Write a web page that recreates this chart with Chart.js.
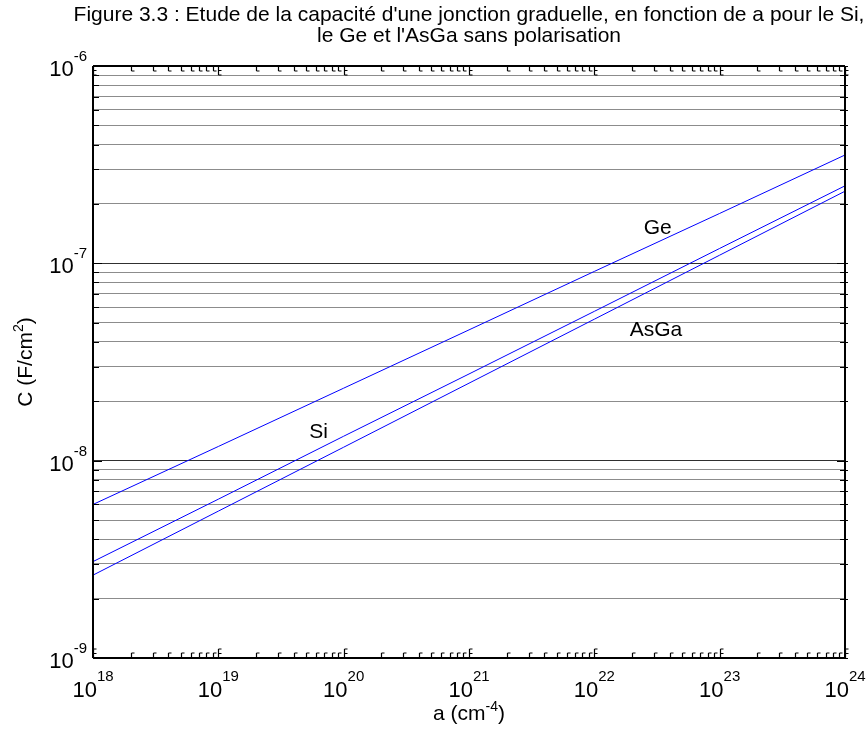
<!DOCTYPE html>
<html><head><meta charset="utf-8">
<script src="https://cdn.jsdelivr.net/npm/chart.js@4.4.1/dist/chart.umd.min.js"></script>
<style>html,body{margin:0;padding:0;background:#fff;overflow:hidden}#wrap{width:866px;height:735px}</style>
</head><body><div id="wrap"><canvas id="c" width="866" height="735"></canvas></div>
<script>
// ---- data ----
const titleLines = ["Figure 3.3 : Etude de la capacité d'une jonction graduelle, en fonction de a pour le Si,", "le Ge et l'AsGa sans polarisation"];
const xValues = [1e18, 1e19, 1e20, 1e21, 1e22, 1e23, 1e24];
const siValues = [3.08e-9, 6.38e-9, 1.33e-8, 2.75e-8, 5.71e-8, 1.19e-7, 2.47e-7];
const geValues = [6.0e-9, 1.18e-8, 2.33e-8, 4.6e-8, 9.1e-8, 1.79e-7, 3.54e-7];
const asgaValues = [2.63e-9, 5.55e-9, 1.17e-8, 2.47e-8, 5.21e-8, 1.10e-7, 2.32e-7];
const seriesNames = ['Si', 'Ge', 'AsGa'];
const labelA = [6.3e19, 3.2e22, 3.1e22];
const labelC = [1.40e-8, 1.51e-7, 4.59e-8];
const xTickExponents = [18, 19, 20, 21, 22, 23, 24];
const yTickExponents = [-9, -8, -7, -6];
const minorMultipliers = [2, 3, 4, 5, 6, 7, 8, 9];
const xTitle = ['a (cm', '-4', ')'];
const yTitle = ['C (F/cm', '2', ')'];

function makeTicks(exps) {
  const t = [];
  exps.forEach((e, i) => {
    t.push({ value: Math.pow(10, e), major: true });
    if (i < exps.length - 1) minorMultipliers.forEach(m => t.push({ value: m * Math.pow(10, e), major: false }));
  });
  return t;
}

const FONT = '"Liberation Sans", Arial, sans-serif';

function drawPow(ctx, base, exp, x, yBase, yExp, align, baseSize, expSize) {
  ctx.font = baseSize + 'px ' + FONT;
  const wb = ctx.measureText(base).width;
  ctx.font = expSize + 'px ' + FONT;
  const we = ctx.measureText(exp).width;
  let start;
  if (align === 'center') start = x - (wb + we) / 2;
  else start = x - (wb + we);
  ctx.textAlign = 'left';
  ctx.textBaseline = 'alphabetic';
  ctx.font = baseSize + 'px ' + FONT;
  ctx.fillText(base, start, yBase);
  ctx.font = expSize + 'px ' + FONT;
  ctx.fillText(exp, start + wb, yExp);
}

const decor = {
  id: 'decor',
  afterDraw(chart) {
    const ctx = chart.ctx;
    const a = chart.chartArea;
    const xs = chart.scales.x, ys = chart.scales.y;
    ctx.save();
    ctx.fillStyle = '#000';
    ctx.strokeStyle = '#000';
    // border
    ctx.lineWidth = 2;
    ctx.beginPath();
    ctx.moveTo(a.left, a.top); ctx.lineTo(a.right, a.top);
    ctx.moveTo(a.right, a.top); ctx.lineTo(a.right, a.bottom);
    ctx.moveTo(a.left, a.bottom); ctx.lineTo(a.right, a.bottom);
    ctx.moveTo(a.left, a.top); ctx.lineTo(a.left, a.bottom);
    ctx.stroke();
    // x ticks (inside, top and bottom)
    ctx.lineWidth = 1.2;
    xs.ticks.forEach(t => {
      const px = Math.round(xs.getPixelForValue(t.value)) + 0.5;
      const len = t.major ? 9 : 5;
      ctx.beginPath();
      ctx.moveTo(px, a.bottom); ctx.lineTo(px, a.bottom - len);
      ctx.moveTo(px, a.bottom - len); ctx.lineTo(px + 3, a.bottom - len);
      ctx.moveTo(px, a.top); ctx.lineTo(px, a.top + len);
      ctx.moveTo(px, a.top + len); ctx.lineTo(px + 3, a.top + len);
      if (t.major) {
        ctx.moveTo(px, a.bottom - 4.5); ctx.lineTo(px + 3, a.bottom - 4.5);
        ctx.moveTo(px, a.top + 4.5); ctx.lineTo(px + 3, a.top + 4.5);
      }
      ctx.stroke();
    });
    // y ticks
    ys.ticks.forEach(t => {
      const py = Math.round(ys.getPixelForValue(t.value)) + 0.5;
      const len = t.major ? 9 : 6;
      ctx.beginPath();
      ctx.moveTo(a.left, py); ctx.lineTo(a.left + len, py);
      ctx.moveTo(a.right + 3, py); ctx.lineTo(a.right - len + 1, py);
      ctx.stroke();
    });
    // tick labels
    xTickExponents.forEach(e => {
      const px = xs.getPixelForValue(Math.pow(10, e));
      drawPow(ctx, '10', String(e), px, a.bottom + 39, a.bottom + 23, 'center', 22, 15);
    });
    yTickExponents.forEach(e => {
      const py = ys.getPixelForValue(Math.pow(10, e));
      drawPow(ctx, '10', String(e), a.left - 6, py + 10, py - 5, 'right', 22, 15);
    });
    // axis titles
    const cx = (a.left + a.right) / 2;
    const cy = (a.top + a.bottom) / 2;
    function titleWithSup(parts, size, supSize) {
      ctx.font = size + 'px ' + FONT;
      const w0 = ctx.measureText(parts[0]).width;
      const w2 = ctx.measureText(parts[2]).width;
      ctx.font = supSize + 'px ' + FONT;
      const w1 = ctx.measureText(parts[1]).width;
      return { w0, w1, w2, total: w0 + w1 + w2 };
    }
    ctx.textAlign = 'left';
    ctx.textBaseline = 'alphabetic';
    let m = titleWithSup(xTitle, 21, 14);
    let sx = cx - m.total / 2, by = 720;
    ctx.font = '21px ' + FONT; ctx.fillText(xTitle[0], sx, by);
    ctx.font = '14px ' + FONT; ctx.fillText(xTitle[1], sx + m.w0, by - 9);
    ctx.font = '21px ' + FONT; ctx.fillText(xTitle[2], sx + m.w0 + m.w1, by);
    ctx.save();
    ctx.translate(32, cy);
    ctx.rotate(-Math.PI / 2);
    m = titleWithSup(yTitle, 21, 14);
    sx = -m.total / 2;
    ctx.font = '21px ' + FONT; ctx.fillText(yTitle[0], sx, 0);
    ctx.font = '14px ' + FONT; ctx.fillText(yTitle[1], sx + m.w0, -9);
    ctx.font = '21px ' + FONT; ctx.fillText(yTitle[2], sx + m.w0 + m.w1, 0);
    ctx.restore();
    // chart title
    ctx.font = '21px ' + FONT;
    ctx.textAlign = 'center';
    ctx.fillText(titleLines[0], cx, 21);
    ctx.fillText(titleLines[1], cx, 42);
    // series labels
    ctx.font = '21px ' + FONT;
    ctx.textAlign = 'center';
    ctx.textBaseline = 'middle';
    seriesNames.forEach((n, i) => {
      ctx.fillText(n, xs.getPixelForValue(labelA[i]), ys.getPixelForValue(labelC[i]));
    });
    ctx.restore();
  }
};

const mk = (name, vals) => ({
  label: name,
  data: xValues.map((x, i) => ({ x: x, y: vals[i] })),
  borderColor: '#0000ff', borderWidth: 1, pointRadius: 0, fill: false, tension: 0
});

new Chart(document.getElementById('c').getContext('2d'), {
  type: 'line',
  data: { datasets: [mk('Si', siValues), mk('Ge', geValues), mk('AsGa', asgaValues)] },
  options: {
    responsive: false, animation: false, devicePixelRatio: 1,
    layout: { padding: { left: 93, right: 21, top: 66, bottom: 77 } },
    plugins: { legend: { display: false }, title: { display: false }, tooltip: { enabled: false } },
    scales: {
      x: {
        type: 'logarithmic', min: 1e18, max: 1e24,
        grid: { display: false, drawTicks: false }, border: { display: false },
        ticks: { display: false },
        afterBuildTicks: s => { s.ticks = makeTicks(xTickExponents); }
      },
      y: {
        type: 'logarithmic', min: 1e-9, max: 1e-6,
        grid: { color: c => (c.tick && c.tick.major) ? '#303030' : '#8c8c8c', lineWidth: 1, drawTicks: false },
        border: { display: false },
        ticks: { display: false },
        afterBuildTicks: s => { s.ticks = makeTicks(yTickExponents); }
      }
    }
  },
  plugins: [decor]
});
</script></body></html>
